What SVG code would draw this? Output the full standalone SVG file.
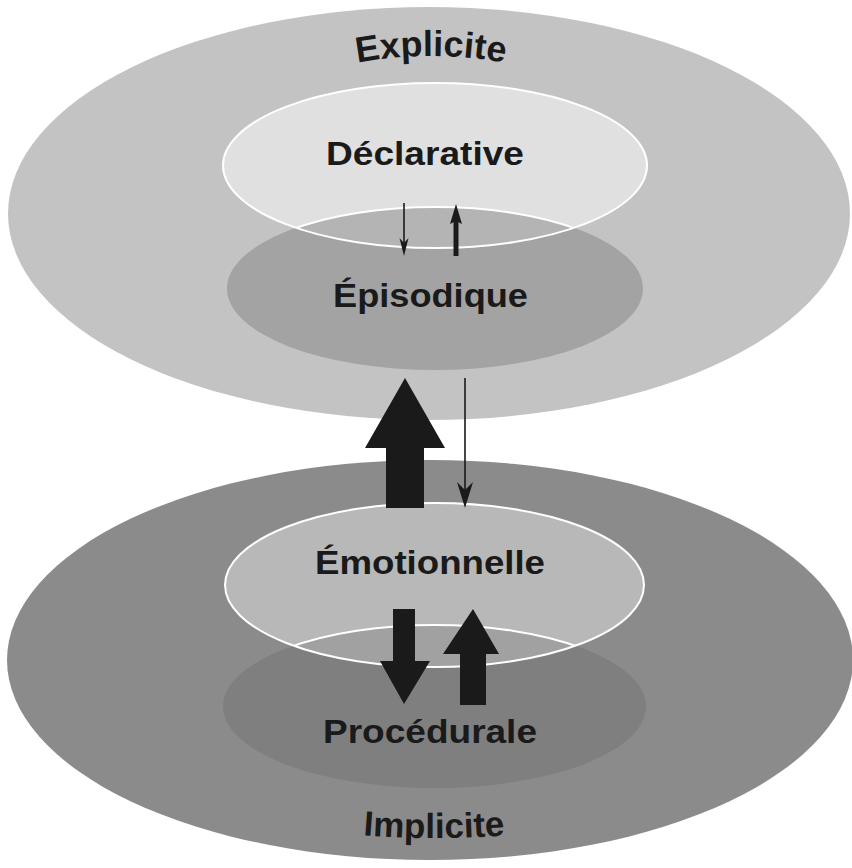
<svg xmlns="http://www.w3.org/2000/svg" width="852" height="868" viewBox="0 0 852 868">
<style>
.lbl{font-family:"Liberation Sans",Arial,sans-serif;font-weight:bold;fill:#1a1a1a;text-anchor:middle}
.inner{font-size:33px}
.outer{font-size:36px}
.wl{fill:none;stroke:#ffffff;stroke-width:2}
.arr{fill:#1a1a1a}
.thin{stroke:#1a1a1a;stroke-width:1.6;fill:none}
</style>
<defs>
<clipPath id="clipDecl"><ellipse cx="435" cy="165.5" rx="212" ry="82.5"/></clipPath>
<clipPath id="clipEmo"><ellipse cx="434.5" cy="585" rx="209.5" ry="82"/></clipPath>
<path id="arcTop" d="M 231,108.8 A 405 405 0 0 1 631,108.8"/>
<path id="arcBot" d="M 134,786 A 890 890 0 0 0 734,786"/>
</defs>
<rect width="852" height="868" fill="#ffffff"/>

<g id="explicite">
<ellipse cx="429" cy="213.5" rx="421" ry="206.5" fill="#c3c3c3"/>
<text class="lbl outer"><textPath href="#arcTop" startOffset="50%">Explicite</textPath></text>
</g>

<g id="implicite">
<ellipse cx="430" cy="660" rx="423" ry="200" fill="#8b8b8b"/>
<text class="lbl outer" style="font-size:35px"><textPath href="#arcBot" startOffset="50%">Implicite</textPath></text>
</g>

<g id="declarative">
<ellipse cx="435" cy="165.5" rx="212" ry="82.5" fill="#e0e0e0"/>
</g>

<g id="episodique">
<ellipse cx="435" cy="288.5" rx="208" ry="81.5" fill="#a3a3a3"/>
<ellipse cx="435" cy="288.5" rx="208" ry="81.5" fill="#b4b4b4" clip-path="url(#clipDecl)"/>
<ellipse cx="435" cy="288.5" rx="208" ry="81.5" class="wl" clip-path="url(#clipDecl)"/>
<ellipse cx="435" cy="165.5" rx="212" ry="82.5" class="wl"/>
<text class="lbl inner" x="430.5" y="307" textLength="195" lengthAdjust="spacingAndGlyphs">Épisodique</text>
</g>
<text class="lbl inner" x="425" y="165" textLength="198" lengthAdjust="spacingAndGlyphs">Déclarative</text>

<g id="emotionnelle">
<ellipse cx="434.5" cy="585" rx="209.5" ry="82" fill="#b8b8b8"/>
</g>

<g id="procedurale">
<ellipse cx="434.5" cy="706.5" rx="211.5" ry="81.5" fill="#7f7f7f"/>
<ellipse cx="434.5" cy="706.5" rx="211.5" ry="81.5" fill="#a1a1a1" clip-path="url(#clipEmo)"/>
<ellipse cx="434.5" cy="706.5" rx="211.5" ry="81.5" class="wl" clip-path="url(#clipEmo)"/>
<ellipse cx="434.5" cy="585" rx="209.5" ry="82" class="wl"/>
<text class="lbl inner" x="430" y="743" textLength="214" lengthAdjust="spacingAndGlyphs">Procédurale</text>
</g>
<text class="lbl inner" x="430" y="574" textLength="230" lengthAdjust="spacingAndGlyphs">Émotionnelle</text>

<g id="connectors">
<line class="thin" x1="404" y1="203" x2="404" y2="244"/>
<polygon class="arr" points="404,256 399.5,238 404,243 408.5,238"/>
<rect class="arr" x="453.5" y="219" width="5" height="37"/>
<polygon class="arr" points="456,204 462,224 456,221 450,224"/>
<polygon class="arr" points="405,378 445,448 424,448 424,508 386,508 386,448 365,448"/>
<line class="thin" x1="465" y1="378" x2="465" y2="494"/>
<polygon class="arr" points="465,508 457,482 465,490 473,482"/>
<polygon class="arr" points="393,609 415,609 415,661 430,661 404,704 380,661 393,661"/>
<polygon class="arr" points="473,609 499,654 486,654 486,705 460,705 460,654 443,654"/>
</g>
</svg>
